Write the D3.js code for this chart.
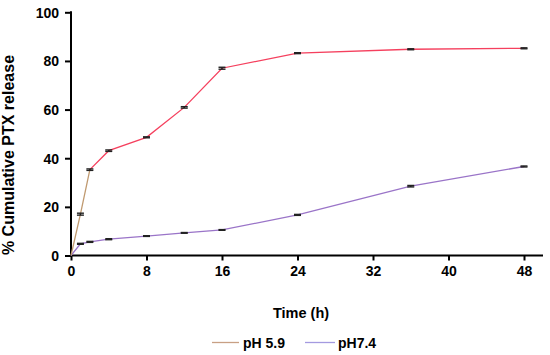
<!DOCTYPE html>
<html>
<head>
<meta charset="utf-8">
<script src="https://cdn.jsdelivr.net/npm/d3@7"></script>
<style>
  body { margin: 0; background: #fff; }
  text { font-family: "Liberation Sans", Arial, sans-serif; font-weight: bold; fill: #000; }
</style>
</head>
<body>
<svg id="chart" width="550" height="355"></svg>
<script>
// data
var time = [0, 1, 2, 4, 8, 12, 16, 24, 36, 48];
var ph59 = [0, 17.0, 35.3, 43.1, 48.6, 60.9, 77.0, 83.2, 84.8, 85.2];
var err59 = [0, 0.4, 0.3, 0.3, 0.2, 0.3, 0.4, 0.2, 0.2, 0.2];
var ph74 = [0, 4.8, 5.6, 6.7, 8.0, 9.3, 10.5, 16.7, 28.5, 36.6];
var err74 = [0, 0.2, 0.2, 0.2, 0.15, 0.15, 0.15, 0.2, 0.3, 0.2];
var xTicks = [0, 8, 16, 24, 32, 40, 48];
var yTicks = [0, 20, 40, 60, 80, 100];

var svg = d3.select("#chart");

var x = d3.scaleLinear().domain([0, 48]).range([71, 524]);
var y = d3.scaleLinear().domain([0, 100]).range([255.5, 12.3]);

// axes
var xAxis = svg.append("g")
    .attr("transform", "translate(0," + y(0) + ")")
    .call(d3.axisBottom(x).tickValues(xTicks).tickSize(5).tickSizeOuter(0).tickPadding(6));
xAxis.select(".domain").remove();
xAxis.selectAll("line").attr("stroke", "#000").attr("stroke-width", 2);
xAxis.selectAll("text").style("font-size", "14px").attr("font-family", null);

var yAxis = svg.append("g")
    .attr("transform", "translate(" + x(0) + ",0)")
    .call(d3.axisLeft(y).tickValues(yTicks).tickSize(6).tickSizeOuter(0).tickPadding(6));
yAxis.select(".domain").remove();
yAxis.selectAll("line").attr("stroke", "#000").attr("stroke-width", 2);
yAxis.selectAll("text").style("font-size", "14px").attr("font-family", null).attr("dy", "0.36em");

svg.append("line")
    .attr("x1", x(0) - 1).attr("x2", 543)
    .attr("y1", y(0)).attr("y2", y(0))
    .attr("stroke", "#000").attr("stroke-width", 2);
svg.append("line")
    .attr("x1", x(0)).attr("x2", x(0))
    .attr("y1", y(100) - 1).attr("y2", y(0) + 1)
    .attr("stroke", "#000").attr("stroke-width", 2);

// series
var line = d3.line()
    .x(function(d) { return x(d.t); })
    .y(function(d) { return y(d.v); });

function rows(vals, errs) {
  return time.map(function(t, i) { return { t: t, v: vals[i], e: errs[i] }; });
}

var s59 = rows(ph59, err59),
    s74 = rows(ph74, err74);

svg.append("path").datum(s74)
    .attr("d", line).attr("fill", "none")
    .attr("stroke", "#9a74c8").attr("stroke-width", 1.3);

// early part of the pH 5.9 curve shows a tan tint in the figure
svg.append("path").datum(s59.slice(2))
    .attr("d", line).attr("fill", "none")
    .attr("stroke", "#f5405e").attr("stroke-width", 1.3);
svg.append("path").datum(s59.slice(0, 3))
    .attr("d", line).attr("fill", "none")
    .attr("stroke", "#c09a70").attr("stroke-width", 1.3);

function add_errors(data) {
  var g = svg.append("g").attr("stroke", "#222").attr("stroke-width", 1.4);
  data.filter(function(d) { return d.t > 0; }).forEach(function(d) {
    var cx = x(d.t);
    g.append("line").attr("x1", cx).attr("x2", cx)
        .attr("y1", y(d.v - d.e)).attr("y2", y(d.v + d.e));
    [d.v - d.e, d.v + d.e].forEach(function(v) {
      g.append("line").attr("x1", cx - 3.5).attr("x2", cx + 3.5)
          .attr("y1", y(v)).attr("y2", y(v));
    });
  });
}
add_errors(s59);
add_errors(s74);

// titles
svg.append("text")
    .attr("transform", "translate(14,155) rotate(-90)")
    .attr("text-anchor", "middle")
    .style("font-size", "16px")
    .text("% Cumulative PTX release");

svg.append("text")
    .attr("x", 301).attr("y", 318)
    .attr("text-anchor", "middle")
    .style("font-size", "14.5px")
    .text("Time (h)");

// legend
var legend = [
  { label: "pH 5.9", color: "#c8a084", x1: 212, x2: 239, tx: 243 },
  { label: "pH7.4", color: "#a49ae0", x1: 305, x2: 335, tx: 338 }
];
legend.forEach(function(l) {
  svg.append("line")
      .attr("x1", l.x1).attr("x2", l.x2)
      .attr("y1", 342.5).attr("y2", 342.5)
      .attr("stroke", l.color).attr("stroke-width", 1.3);
  svg.append("text")
      .attr("x", l.tx).attr("y", 347.5)
      .style("font-size", "14px")
      .text(l.label);
});
</script>
</body>
</html>
